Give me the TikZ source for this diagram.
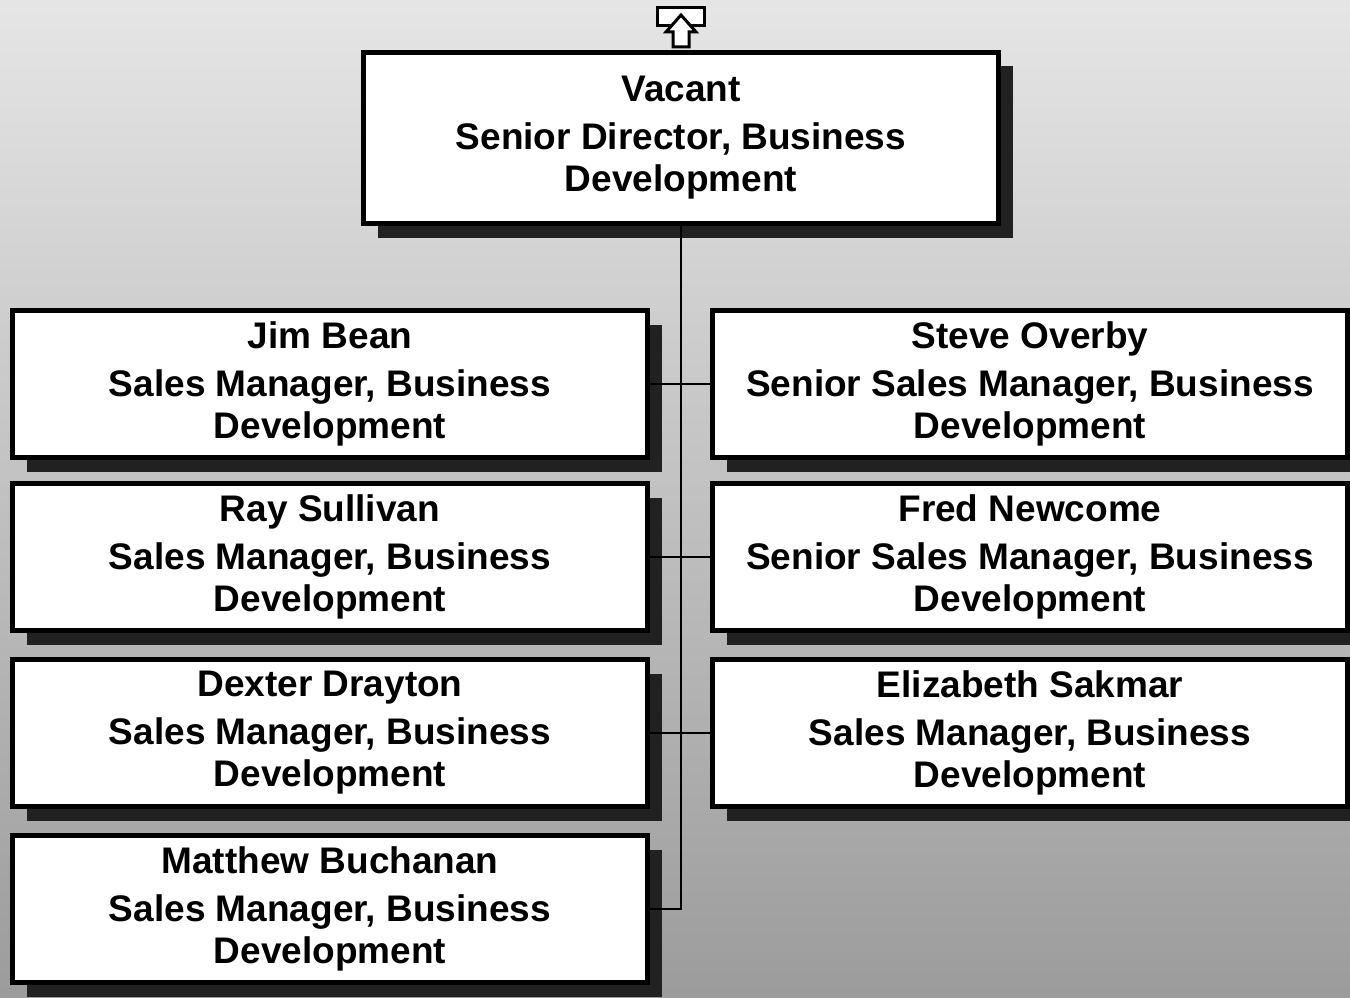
\documentclass[tikz,border=0pt]{standalone}
\usepackage{fontspec}
\setmainfont{Liberation Sans}
\usetikzlibrary{shadows}

\begin{document}
\begin{tikzpicture}[x=1pt,y=-1pt,
  orgbox/.style={draw, line width=5pt, fill=white, align=center,
    minimum width=635pt, minimum height=147pt, inner sep=0pt,
    font=\fontsize{37}{42}\selectfont\bfseries,
    drop shadow={shadow xshift=14pt, shadow yshift=-14pt, fill=black!87, opacity=1}},
  link/.style={line width=2pt}]
%
%''''''''''''''''''''''''''''Columns of the chart''''''''''''''''''''''''''''''''''''''''''''''''''''''''
\def\xl{330}
\def\xr{1030}
%''''''''''''''''''''''''''''''''''''''''''''''''''''''''''''''''''''''''''''''''''''''''''''''''''''''''
%
% background
\shade[top color=black!10, bottom color=black!39] (0,0) rectangle (1350,998);
\useasboundingbox (0,0) rectangle (1350,998);
%
% head of the chart
\node[orgbox, minimum height=171pt](vacant) at (681,138){Vacant\\[6pt]Senior Director, Business\\Development};
%
% left column
\node[orgbox](jim) at (\xl,384){Jim Bean\\[6pt]Sales Manager, Business\\Development};
\node[orgbox](ray) at (\xl,557){Ray Sullivan\\[6pt]Sales Manager, Business\\Development};
\node[orgbox](dexter) at (\xl,733){Dexter Drayton\\[6pt]Sales Manager, Business\\Development};
\node[orgbox](matthew) at (\xl,909){Matthew Buchanan\\[6pt]Sales Manager, Business\\Development};
%
% right column
\node[orgbox](steve) at (\xr,384){Steve Overby\\[6pt]Senior Sales Manager, Business\\Development};
\node[orgbox](fred) at (\xr,557){Fred Newcome\\[6pt]Senior Sales Manager, Business\\Development};
\node[orgbox](elizabeth) at (\xr,733){Elizabeth Sakmar\\[6pt]Sales Manager, Business\\Development};
%
% connecting lines
\coordinate (trunk) at (matthew.east -| vacant.south);
\draw[link](vacant.south)--(trunk)--(matthew.east);
\draw[link](jim.east)--(steve.west);
\draw[link](ray.east)--(fred.west);
\draw[link](dexter.east)--(elizabeth.west);
%
% up arrow on top
\draw[line width=3pt, fill=white](657,8) rectangle (704,26);
\draw[line width=3pt, fill=white](681,15)--(666,32)--(673,32)--(673,47)--(689,47)--(689,32)--(696,32)--cycle;
%
\end{tikzpicture}
\end{document}
